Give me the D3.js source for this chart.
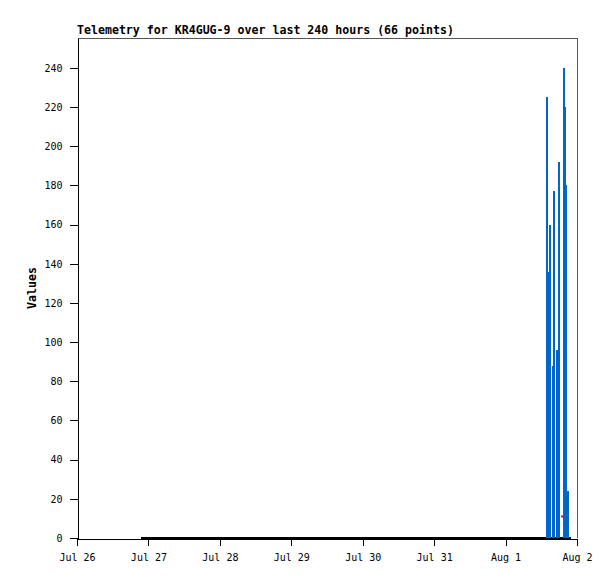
<!DOCTYPE html>
<html>
<head>
<meta charset="utf-8">
<script src="https://cdn.jsdelivr.net/npm/d3@7"></script>
<style>
  body { margin: 0; background: #fff; }
  text { font-family: "DejaVu Sans Mono", monospace; }
</style>
</head>
<body>
<div id="chart"></div>
<script>
// Data: hours after Jul 26 00:00
const barHours  = [158.0, 158.5, 159.0, 159.8, 160.3, 161.4, 161.95, 163.6, 164.0, 164.4, 164.85];
const barValues = [225,   136,   160,   88,    177,   96,    192,    240,   220,   180,   24];
const dotHours  = [163.0];
const dotValues = [11];
const zeroHours  = [21.5, 166.0];
const zeroValues = [0, 0];
const yTicks = [0, 20, 40, 60, 80, 100, 120, 140, 160, 180, 200, 220, 240];
const title = "Telemetry for KR4GUG-9 over last 240 hours (66 points)";

(function() {
const margin = { top: 38, right: 38, bottom: 41, left: 77 };
const width = 615 - margin.left - margin.right;
const height = 579 - margin.top - margin.bottom;

const start = new Date(2024, 6, 26);
const end = new Date(2024, 7, 2);
const toDate = h => new Date(start.getTime() + h * 3600e3);

const svg = d3.select("#chart")
  .append("svg")
  .attr("width", 615)
  .attr("height", 579);

const g = svg.append("g")
  .attr("transform", `translate(${margin.left},${margin.top})`);

const x = d3.scaleTime().domain([start, end]).range([0, width]);
const y = d3.scaleLinear().domain([0, 255.3]).range([height, 0]);

// frame (top and right gray)
g.append("path")
  .attr("d", `M0.5,0.5H${width + 0.5}V${height}`)
  .attr("fill", "none")
  .attr("stroke", "#555")
  .attr("shape-rendering", "crispEdges");

// zero series line
g.append("path")
  .datum(zeroHours.map((h, i) => [h, zeroValues[i]]))
  .attr("fill", "none")
  .attr("stroke", "#000")
  .attr("stroke-width", 2)
  .attr("shape-rendering", "crispEdges")
  .attr("d", d3.line().x(d => x(toDate(d[0]))).y(d => y(d[1]) - 0.5));

// impulses
g.selectAll(".bar")
  .data(barHours.map((h, i) => ({ h, v: barValues[i] })))
  .enter()
  .append("line")
  .attr("x1", d => x(toDate(d.h)))
  .attr("x2", d => x(toDate(d.h)))
  .attr("y1", y(0))
  .attr("y2", d => y(d.v))
  .attr("stroke", "#0066cc")
  .attr("stroke-width", 2)
  .attr("shape-rendering", "crispEdges");

g.selectAll(".dot")
  .data(dotHours.map((h, i) => ({ h, v: dotValues[i] })))
  .enter()
  .append("rect")
  .attr("x", d => x(toDate(d.h)) - 1)
  .attr("y", d => y(d.v) - 1)
  .attr("width", 2)
  .attr("height", 2)
  .attr("fill", "#dd0000");

// Y axis
const yAxis = g.append("g")
  .attr("transform", "translate(0.5,0)")
  .call(d3.axisLeft(y).tickValues(yTicks).tickSize(8).tickSizeOuter(0).tickPadding(7));
yAxis.select(".domain").attr("stroke", "#000").attr("shape-rendering", "crispEdges");
yAxis.selectAll(".tick line").attr("stroke", "#000").attr("shape-rendering", "crispEdges");
yAxis.selectAll(".tick text")
  .attr("font-family", "DejaVu Sans Mono")
  .attr("font-size", "10px")
  .attr("fill", "#000");

// X axis
const xAxis = g.append("g")
  .attr("transform", `translate(0,${height + 0.5})`)
  .call(d3.axisBottom(x).ticks(d3.timeDay.every(1)).tickFormat(d3.timeFormat("%b %-d"))
    .tickSize(7).tickSizeOuter(0).tickPadding(8));
xAxis.select(".domain").attr("stroke", "#000").attr("shape-rendering", "crispEdges");
xAxis.selectAll(".tick line").attr("stroke", "#000").attr("shape-rendering", "crispEdges");
xAxis.selectAll(".tick text")
  .attr("font-family", "DejaVu Sans Mono")
  .attr("font-size", "10px")
  .attr("fill", "#000");

// Title
svg.append("text")
  .attr("x", margin.left)
  .attr("y", 34)
  .attr("font-size", "11.6px")
  .attr("font-weight", "bold")
  .attr("fill", "#000")
  .text(title);

// Y label
svg.append("text")
  .attr("transform", `translate(36,288) rotate(-90)`)
  .attr("text-anchor", "middle")
  .attr("font-size", "11.6px")
  .attr("font-weight", "bold")
  .attr("fill", "#000")
  .text("Values");
})();
</script>
</body>
</html>
